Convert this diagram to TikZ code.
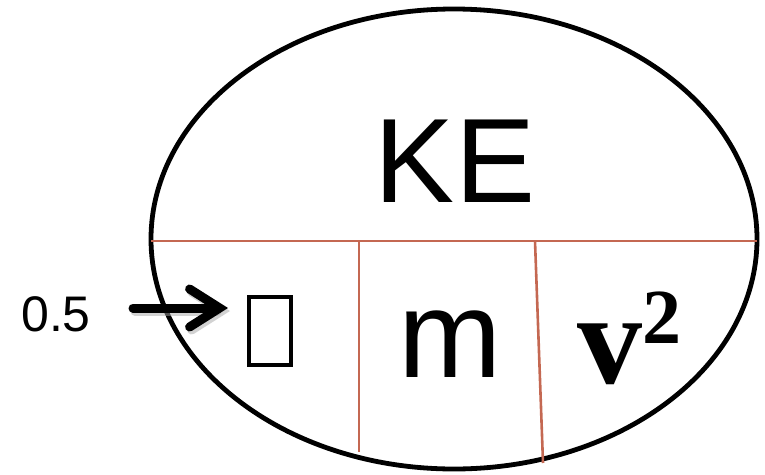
\documentclass[tikz,border=0pt]{standalone}
\usepackage{fontspec}
\setmainfont{Liberation Sans}
\newfontfamily\serifbold{Liberation Serif}
\usetikzlibrary{arrows.meta}
\definecolor{divider}{RGB}{196,104,82}
\tikzset{
  x=1pt, y=-1pt,
  outline/.style={draw=black, line width=4.8pt},
  divline/.style={draw=divider, line width=2.6pt},
  bigsans/.style={font=\fontsize{120}{120}\selectfont, inner sep=0pt, anchor=base},
  pointer/.style={line width=9pt, line cap=round,
    -{Straight Barb[length=30pt, width=38pt, line cap=round]}}
}
\begin{document}
\begin{tikzpicture}
\useasboundingbox (0,0) rectangle (765,474);
% outer oval
\draw[outline] (454,239) ellipse [x radius=303, y radius=230];
% dividers
\draw[divline] (151,241) -- (757,241);
\draw[divline] (359,241) -- (359,452);
\draw[divline] (535,241) -- (543,463);
% labels
\node[bigsans] (ke) at (455,202) {KE};
\node[font=\fontsize{124}{124}\selectfont, inner sep=0pt, anchor=base] (m) at (450,377) {m};
\node[font=\serifbold\bfseries\fontsize{130}{130}\selectfont, inner sep=0pt, anchor=base west] (v) at (577,383)
  {v\raisebox{40pt}{\fontsize{78}{78}\selectfont 2}};
\node[draw=black, line width=4pt, minimum width=42pt, minimum height=68pt, inner sep=0pt] (half) at (270,331) {};
\node[font=\fontsize{50}{50}\selectfont, inner sep=0pt, anchor=base west] (coef) at (21,331) {0.5};
% pointer with a soft drop shadow
\coordinate (tail) at (133,308);
\draw[pointer, draw=black!35, opacity=0.5, shorten >=19pt, transform canvas={shift={(2pt,-3pt)}}] (tail) -- (tail -| half.west);
\draw[pointer, shorten >=19pt] (tail) -- (tail -| half.west);
\end{tikzpicture}
\end{document}
